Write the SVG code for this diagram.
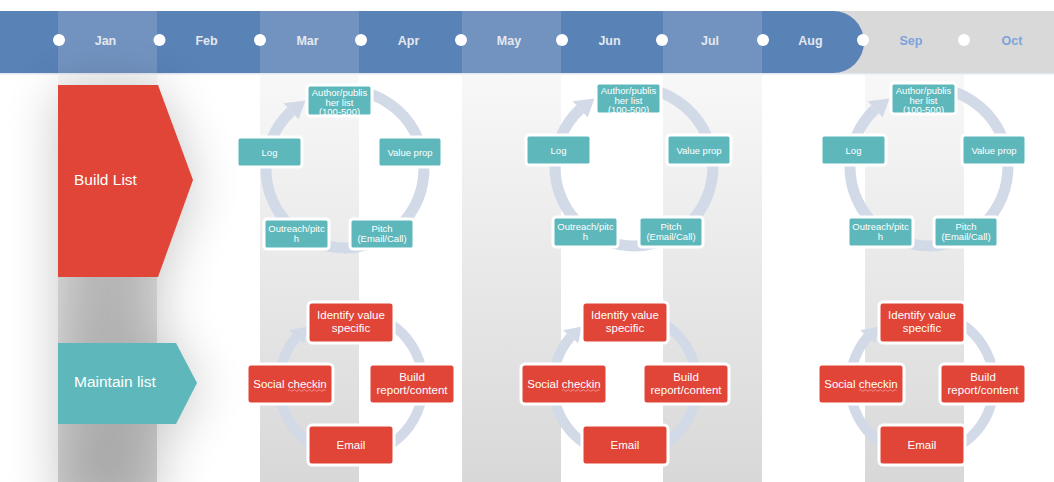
<svg xmlns="http://www.w3.org/2000/svg" width="1054" height="482" viewBox="0 0 1054 482">
<defs>
<linearGradient id="colg" x1="0" y1="0" x2="0" y2="1">
<stop offset="0" stop-color="#f8f8f8"/>
<stop offset="1" stop-color="#d8d8d8"/>
</linearGradient>
<filter id="blur" x="-150%" y="-50%" width="400%" height="200%">
<feGaussianBlur stdDeviation="26"/>
</filter>
<g id="ringTop">
<path d="M358.7 91.2 A79 79 0 1 1 291.1 111.2" fill="none" stroke="#d2d9e7" stroke-width="11"/>
<polygon points="283.6,103.2 305.5,100.6 298.6,119.3" fill="#d2d9e7"/>
</g>
<g id="ringBot">
<path d="M369.6 314.5 A72 72 0 1 1 296.7 336.8" fill="none" stroke="#d2d9e7" stroke-width="10"/>
<polygon points="289.1,330.2 307.7,326.5 304.2,343.3" fill="#d2d9e7"/>
</g>
</defs>
<style>
.month{font-family:"Liberation Sans",Arial,sans-serif;font-size:12.5px;font-weight:bold;fill:#e4e8ee;text-anchor:middle}
.month2{fill:#7ea3da}
.dot{fill:#ffffff}
.col{fill:url(#colg)}
.tn rect{fill:#5eb8bb;stroke:#ffffff;stroke-width:3}
.rn rect{fill:#e04537;stroke:#ffffff;stroke-width:3}
.tn text{font-family:"Liberation Sans",Arial,sans-serif;font-size:9.5px;fill:#ffffff;text-anchor:middle}
.rn text{font-family:"Liberation Sans",Arial,sans-serif;font-size:11.5px;fill:#ffffff;text-anchor:middle}
.lbl{font-family:"Liberation Sans",Arial,sans-serif;font-size:15.5px;fill:#ffffff}
.sq{fill:none;stroke:#f29a9a;stroke-width:0.9}
</style>
<rect x="0" y="0" width="1054" height="482" fill="#ffffff"/>

<g id="columns">
<rect class="col" x="58" y="74" width="99" height="408"/>
<rect class="col" x="260" y="74" width="99" height="408"/>
<rect class="col" x="462" y="74" width="99" height="408"/>
<rect class="col" x="663" y="74" width="99" height="408"/>
<rect class="col" x="865" y="74" width="99" height="408"/>
</g>

<g id="header">
<rect x="0" y="11" width="1054" height="62" fill="#d9d9d9"/>
<rect x="-40" y="11" width="904" height="62" rx="31" fill="#5982b7"/>
<rect x="58" y="11" width="99" height="62" fill="#7293c0"/>
<rect x="260" y="11" width="99" height="62" fill="#7293c0"/>
<rect x="462" y="11" width="99" height="62" fill="#7293c0"/>
<rect x="663" y="11" width="99" height="62" fill="#7293c0"/>
<rect x="0" y="73" width="1054" height="1.5" fill="#e2e7ef"/>
<circle class="dot" cx="59" cy="40" r="6"/>
<circle class="dot" cx="159.5" cy="40" r="6"/>
<circle class="dot" cx="260" cy="40" r="6"/>
<circle class="dot" cx="361" cy="40" r="6"/>
<circle class="dot" cx="461" cy="40" r="6"/>
<circle class="dot" cx="562" cy="40" r="6"/>
<circle class="dot" cx="662" cy="40" r="6"/>
<circle class="dot" cx="763" cy="40" r="6"/>
<circle class="dot" cx="863" cy="40" r="6"/>
<circle class="dot" cx="964" cy="40" r="6"/>
<text class="month" x="105.5" y="45">Jan</text>
<text class="month" x="206.5" y="45">Feb</text>
<text class="month" x="307.5" y="45">Mar</text>
<text class="month" x="408.5" y="45">Apr</text>
<text class="month" x="509" y="45">May</text>
<text class="month" x="609.5" y="45">Jun</text>
<text class="month" x="710" y="45">Jul</text>
<text class="month" x="810.5" y="45">Aug</text>
<text class="month month2" x="911" y="45">Sep</text>
<text class="month month2" x="1012" y="45">Oct</text>
</g>

<g id="shadow" opacity="0.22" filter="url(#blur)">
<rect x="58" y="110" width="100" height="400" fill="#000"/>
<polygon points="58,90 158,90 193,185 158,282 58,282" fill="#000"/>
<polygon points="58,348 176,348 197,388 176,429 58,429" fill="#000"/>
</g>

<g id="build-list">
<polygon points="58,85 158,85 193,180 158,277 58,277" fill="#e04537"/>
<text class="lbl" x="74" y="185">Build List</text>
</g>
<g id="maintain-list">
<polygon points="58,343 176,343 197,383 176,424 58,424" fill="#5eb8bb"/>
<text class="lbl" x="74" y="387">Maintain list</text>
</g>

<g id="connectors">
<use href="#ringTop"/>
<use href="#ringTop" transform="translate(289,-2)"/>
<use href="#ringTop" transform="translate(584,-2)"/>
<use href="#ringBot"/>
<use href="#ringBot" transform="translate(274,0)"/>
<use href="#ringBot" transform="translate(571,0)"/>
</g>

<!-- cycle 1 top -->
<g id="c1-author" class="tn" transform="translate(307,85)"><rect width="65" height="31" rx="3"/><text x="32.5" y="11">Author/publis</text><text x="32.5" y="20.5">her list</text><text x="32.5" y="30">(100-500)</text></g>
<g id="c1-value" class="tn" transform="translate(378,137)"><rect width="64" height="30" rx="3"/><text x="32" y="18.5">Value prop</text></g>
<g id="c1-pitch" class="tn" transform="translate(350,219)"><rect width="64" height="30" rx="3"/><text x="32" y="13">Pitch</text><text x="32" y="22.5">(Email/Call)</text></g>
<g id="c1-outreach" class="tn" transform="translate(264,219)"><rect width="65" height="30" rx="3"/><text x="32.5" y="13">Outreach/pitc</text><text x="32.5" y="22.5">h</text></g>
<g id="c1-log" class="tn" transform="translate(237,137)"><rect width="65" height="30" rx="3"/><text x="32.5" y="18.5">Log</text></g>

<!-- cycle 2 top -->
<g id="c2-author" class="tn" transform="translate(596,83)"><rect width="65" height="31" rx="3"/><text x="32.5" y="11">Author/publis</text><text x="32.5" y="20.5">her list</text><text x="32.5" y="30">(100-500)</text></g>
<g id="c2-value" class="tn" transform="translate(667,135)"><rect width="64" height="30" rx="3"/><text x="32" y="18.5">Value prop</text></g>
<g id="c2-pitch" class="tn" transform="translate(639,217)"><rect width="64" height="30" rx="3"/><text x="32" y="13">Pitch</text><text x="32" y="22.5">(Email/Call)</text></g>
<g id="c2-outreach" class="tn" transform="translate(553,217)"><rect width="65" height="30" rx="3"/><text x="32.5" y="13">Outreach/pitc</text><text x="32.5" y="22.5">h</text></g>
<g id="c2-log" class="tn" transform="translate(526,135)"><rect width="65" height="30" rx="3"/><text x="32.5" y="18.5">Log</text></g>

<!-- cycle 3 top -->
<g id="c3-author" class="tn" transform="translate(891,83)"><rect width="65" height="31" rx="3"/><text x="32.5" y="11">Author/publis</text><text x="32.5" y="20.5">her list</text><text x="32.5" y="30">(100-500)</text></g>
<g id="c3-value" class="tn" transform="translate(962,135)"><rect width="64" height="30" rx="3"/><text x="32" y="18.5">Value prop</text></g>
<g id="c3-pitch" class="tn" transform="translate(934,217)"><rect width="64" height="30" rx="3"/><text x="32" y="13">Pitch</text><text x="32" y="22.5">(Email/Call)</text></g>
<g id="c3-outreach" class="tn" transform="translate(848,217)"><rect width="65" height="30" rx="3"/><text x="32.5" y="13">Outreach/pitc</text><text x="32.5" y="22.5">h</text></g>
<g id="c3-log" class="tn" transform="translate(821,135)"><rect width="65" height="30" rx="3"/><text x="32.5" y="18.5">Log</text></g>

<!-- cycle 1 bottom -->
<g id="m1-identify" class="rn" transform="translate(308,302)"><rect width="86" height="41" rx="4"/><text x="43" y="17">Identify value</text><text x="43" y="30">specific</text></g>
<g id="m1-build" class="rn" transform="translate(369,364)"><rect width="86" height="40" rx="4"/><text x="43" y="16.5">Build</text><text x="43" y="29.5">report/content</text></g>
<g id="m1-email" class="rn" transform="translate(308,425)"><rect width="86" height="40" rx="4"/><text x="43" y="23.5">Email</text></g>
<g id="m1-social" class="rn" transform="translate(247,364)"><rect width="86" height="40" rx="4"/><text x="43" y="23.5">Social checkin</text><path class="sq" d="M41 26.5 q1.25 -1.6 2.5 0 t2.5 0 t2.5 0 t2.5 0 t2.5 0 t2.5 0 t2.5 0 t2.5 0 t2.5 0 t2.5 0 t2.5 0 t2.5 0 t2.5 0 t2.5 0 t2.5 0"/></g>

<!-- cycle 2 bottom -->
<g id="m2-identify" class="rn" transform="translate(582,302)"><rect width="86" height="41" rx="4"/><text x="43" y="17">Identify value</text><text x="43" y="30">specific</text></g>
<g id="m2-build" class="rn" transform="translate(643,364)"><rect width="86" height="40" rx="4"/><text x="43" y="16.5">Build</text><text x="43" y="29.5">report/content</text></g>
<g id="m2-email" class="rn" transform="translate(582,425)"><rect width="86" height="40" rx="4"/><text x="43" y="23.5">Email</text></g>
<g id="m2-social" class="rn" transform="translate(521,364)"><rect width="86" height="40" rx="4"/><text x="43" y="23.5">Social checkin</text><path class="sq" d="M41 26.5 q1.25 -1.6 2.5 0 t2.5 0 t2.5 0 t2.5 0 t2.5 0 t2.5 0 t2.5 0 t2.5 0 t2.5 0 t2.5 0 t2.5 0 t2.5 0 t2.5 0 t2.5 0 t2.5 0"/></g>

<!-- cycle 3 bottom -->
<g id="m3-identify" class="rn" transform="translate(879,302)"><rect width="86" height="41" rx="4"/><text x="43" y="17">Identify value</text><text x="43" y="30">specific</text></g>
<g id="m3-build" class="rn" transform="translate(940,364)"><rect width="86" height="40" rx="4"/><text x="43" y="16.5">Build</text><text x="43" y="29.5">report/content</text></g>
<g id="m3-email" class="rn" transform="translate(879,425)"><rect width="86" height="40" rx="4"/><text x="43" y="23.5">Email</text></g>
<g id="m3-social" class="rn" transform="translate(818,364)"><rect width="86" height="40" rx="4"/><text x="43" y="23.5">Social checkin</text><path class="sq" d="M41 26.5 q1.25 -1.6 2.5 0 t2.5 0 t2.5 0 t2.5 0 t2.5 0 t2.5 0 t2.5 0 t2.5 0 t2.5 0 t2.5 0 t2.5 0 t2.5 0 t2.5 0 t2.5 0 t2.5 0"/></g>
</svg>
